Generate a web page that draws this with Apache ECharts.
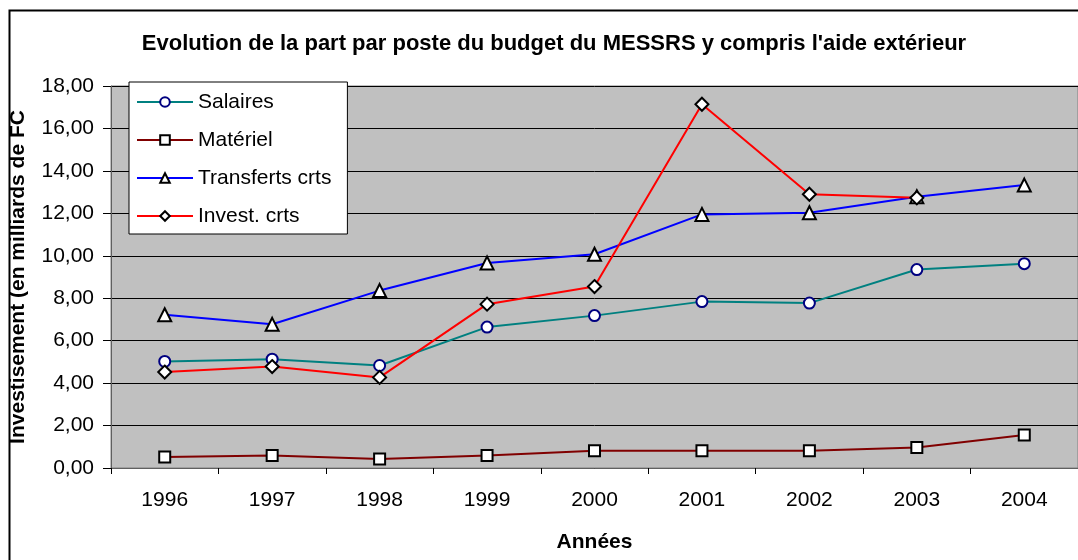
<!DOCTYPE html>
<html>
<head>
<meta charset="utf-8">
<title>Evolution de la part par poste du budget du MESSRS</title>
<script src="https://cdn.jsdelivr.net/npm/echarts@6/dist/echarts.min.js"></script>
<style>
  html, body { margin: 0; padding: 0; background: #fff; }
  #chart { width: 1078px; height: 560px; }
</style>
</head>
<body>
<div id="chart"></div>
<script>
// données (milliards de FC)
const annees = ['1996', '1997', '1998', '1999', '2000', '2001', '2002', '2003', '2004']
const salaires = [5.02, 5.13, 4.83, 6.64, 7.18, 7.84, 7.77, 9.35, 9.63]
const materiel = [0.52, 0.59, 0.42, 0.59, 0.81, 0.81, 0.81, 0.97, 1.55]
const transferts = [7.22, 6.77, 8.36, 9.66, 10.07, 11.95, 12.03, 12.78, 13.33]
const invest = [4.52, 4.78, 4.27, 7.72, 8.55, 17.14, 12.9, 12.73, null]

const police = 'Liberation Sans, Arial, sans-serif'

const chart = echarts.init(document.getElementById('chart'))

// une série ligne avec marqueur blanc
const serie = (nom, data, couleur, symbole, taille, bord) => ({
  type: 'line',
  name: nom,
  data: data,
  symbol: symbole,
  symbolSize: taille,
  showSymbol: true,
  connectNulls: false,
  lineStyle: { color: couleur, width: 2 },
  itemStyle: { color: '#fff', borderColor: bord, borderWidth: 2 },
  emphasis: { disabled: true }
})

const option = {
  animation: false,
  backgroundColor: '#fff',
  title: {
    text: "Evolution de la part par poste du budget du MESSRS y compris l'aide extérieur",
    left: 549,
    textAlign: 'center',
    top: 28,
    textStyle: { fontFamily: police, fontSize: 22, fontWeight: 'bold', color: '#000' }
  },
  legend: {
    orient: 'vertical',
    left: 129,
    top: 82,
    padding: [8, 16, 6, 7],
    itemGap: 14,
    itemWidth: 56,
    itemHeight: 12,
    backgroundColor: '#fff',
    borderColor: '#000',
    borderWidth: 1,
    borderRadius: 0,
    textStyle: { fontFamily: police, fontSize: 21, color: '#000', lineHeight: 24 },
    data: ['Salaires', 'Matériel', 'Transferts crts', 'Invest. crts']
  },
  grid: {
    left: 109,
    right: -6,
    top: 86,
    bottom: 92,
    show: true,
    backgroundColor: '#C0C0C0',
    borderColor: '#808080',
    borderWidth: 1,
    containLabel: false
  },
  xAxis: {
    type: 'category',
    data: annees,
    boundaryGap: true,
    name: 'Années',
    nameLocation: 'middle',
    nameGap: 64,
    nameTextStyle: { fontFamily: police, fontSize: 21, fontWeight: 'bold', color: '#000' },
    axisLine: { lineStyle: { color: '#606060', width: 1 } },
    axisTick: { show: true, inside: false, length: 6, alignWithLabel: false, lineStyle: { color: '#000' } },
    axisLabel: { fontFamily: police, fontSize: 21, color: '#000', margin: 22 },
    splitLine: { show: false }
  },
  yAxis: {
    type: 'value',
    min: 0,
    max: 18,
    interval: 2,
    name: 'Investisement (en milliards de FC',
    nameLocation: 'middle',
    nameGap: 82,
    nameTextStyle: { fontFamily: police, fontSize: 21, fontWeight: 'bold', color: '#000' },
    axisLine: { show: true, lineStyle: { color: '#606060', width: 1 } },
    axisTick: { show: true, inside: false, length: 8, lineStyle: { color: '#000' } },
    axisLabel: {
      fontFamily: police,
      fontSize: 21,
      color: '#000',
      margin: 17,
      formatter: v => v.toFixed(2).replace('.', ',')
    },
    splitLine: { show: true, lineStyle: { color: '#000', width: 1 } }
  },
  graphic: [
    {
      type: 'rect',
      left: 7,
      top: 8,
      shape: { width: 1200, height: 700 },
      style: { fill: 'none', stroke: '#000', lineWidth: 2 },
      silent: true,
      z: 100
    }
  ],
  series: [
    serie('Salaires', salaires, '#008080', 'circle', 11, '#000080'),
    serie('Matériel', materiel, '#800000', 'rect', 11, '#000'),
    serie('Transferts crts', transferts, '#0000FF', 'triangle', 13, '#000'),
    serie('Invest. crts', invest, '#FF0000', 'diamond', 13, '#000')
  ]
}

chart.setOption(option)
</script>
</body>
</html>
